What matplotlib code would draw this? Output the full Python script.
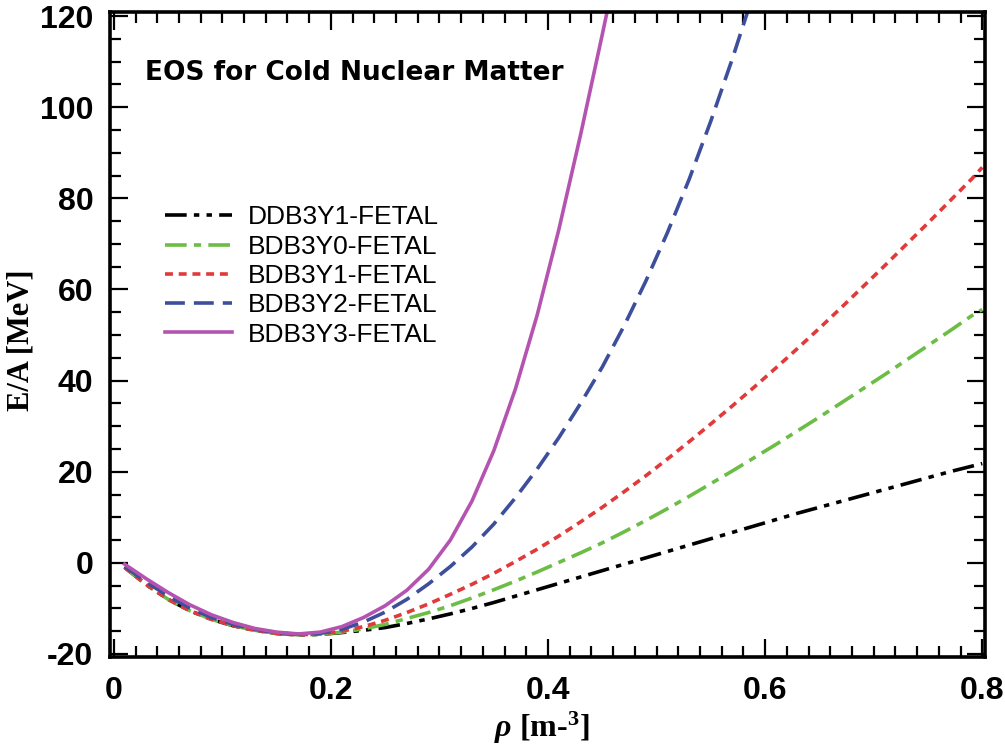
import matplotlib
matplotlib.use("Agg")
import matplotlib.pyplot as plt

# ---- data ----
rho_common = [0.01, 0.03, 0.05, 0.07, 0.09, 0.11, 0.13, 0.15, 0.17, 0.19,
              0.21, 0.23, 0.25, 0.27, 0.29, 0.31, 0.33, 0.35, 0.37, 0.39,
              0.41, 0.43, 0.45, 0.47, 0.49, 0.51, 0.53, 0.55, 0.57, 0.59,
              0.61, 0.63, 0.65, 0.67, 0.69, 0.71, 0.73, 0.75, 0.77, 0.79, 0.80]

e_ddb3y1 = [-1.0, -4.8, -8.0, -10.5, -12.4, -13.8, -14.8, -15.5, -15.8, -15.7,
            -15.3, -14.8, -14.2, -13.3, -12.3, -11.2, -10.0, -8.7, -7.3, -5.9,
            -4.5, -3.1, -1.7, -0.3, 1.1, 2.5, 3.9, 5.3, 6.7, 8.1,
            9.5, 10.9, 12.2, 13.5, 14.8, 16.1, 17.4, 18.7, 20.0, 21.2, 21.8]

e_bdb3y0 = [-1.0, -4.8, -8.0, -10.5, -12.4, -13.8, -14.8, -15.5, -15.8, -15.7,
            -15.2, -14.5, -13.5, -12.2, -10.9, -9.4, -7.7, -5.9, -4.0, -2.0,
            0.1, 2.2, 4.4, 6.8, 9.3, 11.9, 14.6, 17.4, 20.2, 23.1,
            26.0, 29.0, 32.0, 35.1, 38.2, 41.3, 44.5, 47.7, 50.9, 54.2, 55.6]

e_bdb3y1 = [-1.0, -4.8, -8.0, -10.5, -12.4, -13.8, -14.8, -15.5, -15.8, -15.6,
            -15.0, -14.0, -12.6, -10.9, -9.0, -6.9, -4.7, -2.3, 0.3, 3.0,
            5.9, 9.0, 12.2, 15.6, 19.1, 22.8, 26.6, 30.5, 34.5, 38.6,
            42.8, 47.1, 51.5, 56.0, 60.6, 65.2, 69.9, 74.6, 79.4, 84.2, 86.8]

rho_y2 = [0.01, 0.03, 0.05, 0.07, 0.09, 0.11, 0.13, 0.15, 0.17, 0.19,
          0.21, 0.23, 0.25, 0.27, 0.29, 0.31, 0.33, 0.35, 0.37, 0.39,
          0.41, 0.43, 0.45, 0.47, 0.49, 0.51, 0.53, 0.55, 0.57, 0.59]
e_bdb3y2 = [-0.8, -4.2, -7.3, -9.9, -12.0, -13.5, -14.6, -15.3, -15.7, -15.5,
            -14.6, -13.0, -10.8, -8.0, -4.6, -0.8, 3.5, 8.5, 14.3, 20.6,
            27.5, 35.0, 43.0, 52.0, 61.8, 72.5, 84.2, 97.0, 110.8, 125.5]

rho_y3 = [0.01, 0.03, 0.05, 0.07, 0.09, 0.11, 0.13, 0.15, 0.17, 0.19,
          0.21, 0.23, 0.25, 0.27, 0.29, 0.31, 0.33, 0.35, 0.37, 0.39,
          0.41, 0.43, 0.45, 0.47]
e_bdb3y3 = [-0.3, -3.5, -6.5, -9.2, -11.4, -13.1, -14.4, -15.2, -15.6, -15.2,
            -14.0, -12.0, -9.4, -6.0, -1.4, 5.0, 13.6, 24.6, 38.2, 54.4,
            73.2, 94.0, 116.0, 138.5]

labels = ["DDB3Y1-FETAL", "BDB3Y0-FETAL", "BDB3Y1-FETAL", "BDB3Y2-FETAL", "BDB3Y3-FETAL"]
xticks = [0, 0.2, 0.4, 0.6, 0.8]
xticklabels = ["0", "0.2", "0.4", "0.6", "0.8"]
yticks = [-20, 0, 20, 40, 60, 80, 100, 120]
yticklabels = ["-20", "0", "20", "40", "60", "80", "100", "120"]

# ---- styling ----
plt.rcParams['mathtext.fontset'] = 'custom'
plt.rcParams['mathtext.rm'] = 'Liberation Serif:bold'
plt.rcParams['mathtext.it'] = 'Liberation Serif:italic:bold'
plt.rcParams['mathtext.bf'] = 'Liberation Serif:bold'

fig = plt.figure(figsize=(10.05, 7.48), dpi=100)
ax = fig.add_axes([110/1005, 1-657/748, 875/1005, 645/748])

ax.plot(rho_common, e_ddb3y1, color='black', lw=2.6, ls=(0, (6, 2, 1.5, 2, 1.5, 2)), label=labels[0])
ax.plot(rho_common, e_bdb3y0, color='#6cbd45', lw=2.6, ls=(0, (6, 2, 2, 2)), label=labels[1])
ax.plot(rho_common, e_bdb3y1, color='#e03a3a', lw=2.6, ls=(0, (2.2, 1.6)), label=labels[2])
ax.plot(rho_y2, e_bdb3y2, color='#3d4f9c', lw=2.6, ls=(0, (5.5, 2.5)), label=labels[3])
ax.plot(rho_y3, e_bdb3y3, color='#b554b0', lw=2.6, ls='-', label=labels[4])

ax.set_xlim(-0.0035, 0.8025)
ax.set_ylim(-20.66, 120.9)

tickfont = dict(family='Liberation Sans', weight='bold', size=23)
ax.set_xticks(xticks)
ax.set_xticklabels(xticklabels, fontdict=tickfont)
ax.set_yticks(yticks)
ax.set_yticklabels(yticklabels, fontdict=tickfont)
ax.set_xticks([i * 0.02 for i in range(41)], minor=True)
ax.set_yticks([-20 + 5 * i for i in range(29)], minor=True)
ax.tick_params(which='both', direction='in', top=True, right=True, width=1.6, color='black')
ax.tick_params(which='major', length=13)
ax.tick_params(which='minor', length=8)
ax.tick_params(axis='x', which='major', pad=14)
ax.tick_params(axis='y', which='major', pad=12)
for sp in ax.spines.values():
    sp.set_linewidth(2.6)

fig.text(21/1005, 1-340/748, 'E/A [MeV]', rotation=90, ha='center', va='center',
         fontfamily='Liberation Serif', fontweight='bold', fontsize=22)
fig.text(542/1005, 2/748, r'$\mathit{\rho}$ [m-$^{\mathrm{3}}$]', ha='center', va='bottom',
         fontfamily='Liberation Serif', fontweight='bold', fontsize=23)

ax.text(0.04, 0.905, 'EOS for Cold Nuclear Matter', transform=ax.transAxes,
        fontfamily='DejaVu Sans', fontweight='bold', fontsize=19, va='center', ha='left')

leg = ax.legend(loc='upper left', bbox_to_anchor=(0.063, 0.70), frameon=False,
                prop={'family': 'Liberation Sans', 'size': 19},
                handlelength=2.54, handletextpad=0.6, labelspacing=0.2,
                borderpad=0, borderaxespad=0)

fig.savefig('out.png', dpi=100)
